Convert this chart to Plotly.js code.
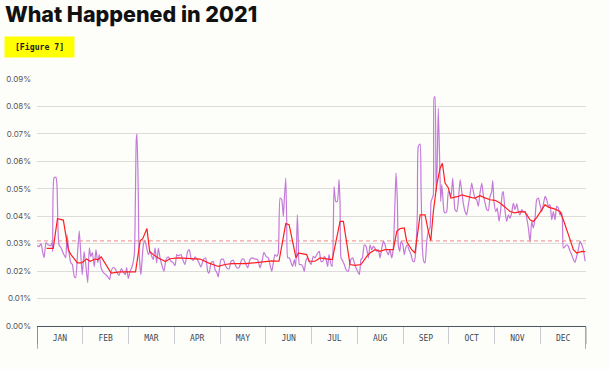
<!DOCTYPE html>
<html>
<head>
<meta charset="utf-8">
<script src="https://cdn.plot.ly/plotly-3.0.1.min.js"></script>
<style>
html,body{margin:0;padding:0;background:#fdfdfa;}
#chart{width:610px;height:369px;}
</style>
</head>
<body>
<div id="chart"></div>
<script>
// Month labels
var months = ['JAN','FEB','MAR','APR','MAY','JUN','JUL','AUG','SEP','OCT','NOV','DEC'];
var daysInYear = 365;

// Daily share (%) - purple line (day of year, 0 = Jan 1)
var dailyDays = [0,1.3,2.7,3.7,4.7,6.0,7.3,9.1,10.0,10.4,11.3,12.6,13.3,14.6,16.0,17.3,19.1,19.9,21.3,22.4,23.5,24.8,25.7,27.1,28.1,29.3,30.1,31.3,32.4,33.7,34.8,35.7,36.8,38.1,39.2,40.4,41.4,42.6,44.1,45.7,47.0,48.3,49.2,50.7,51.9,53.2,54.5,56.1,57.2,58.7,59.6,60.7,61.8,63.2,64.7,65.4,66.0,66.5,67.4,67.8,69.1,70.7,71.8,74.0,75.1,76.3,77.3,78.5,79.6,80.7,81.8,82.9,84.4,85.8,87.3,89.1,90.6,91.8,92.9,94.0,95.7,96.9,98.4,100.2,101.3,102.4,103.9,105.1,106.6,107.7,109.0,110.6,112.2,113.5,114.4,115.7,117.2,118.4,119.5,120.5,122.3,123.9,125.0,126.1,127.7,129.0,130.5,131.7,132.8,134.3,136.1,137.4,138.8,140.1,141.6,143.2,144.9,146.7,148.3,149.8,150.9,152.3,153.8,154.9,156.1,157.1,158.2,159.4,160.4,161.6,162.7,163.8,164.4,165.4,166.0,166.7,167.8,168.9,170.0,171.1,172.0,173.1,173.7,174.4,175.5,176.7,177.7,178.7,179.7,180.9,182.2,183.7,184.8,186.6,187.7,188.8,190.0,191.0,192.2,193.3,194.1,195.5,196.3,197.5,198.6,199.7,200.8,201.5,202.1,203.3,204.3,205.5,207.0,208.6,209.9,211.0,212.1,213.2,214.3,215.4,216.3,217.6,218.8,220.3,221.4,222.5,223.6,224.7,225.9,226.9,228.1,229.2,230.3,231.4,232.5,233.6,234.7,235.8,236.9,238.0,238.7,239.6,240.2,241.2,242.0,243.2,244.2,245.1,246.2,247.3,248.7,249.8,250.9,251.8,252.9,253.5,254.7,255.3,256.2,257.1,258.0,259.1,260.2,261.3,262.0,262.8,263.5,264.0,264.6,265.3,266.0,266.8,267.8,268.4,269.1,269.7,270.6,271.3,272.4,273.5,274.6,275.3,276.4,277.1,277.9,279.1,280.1,281.3,282.4,283.4,284.6,285.7,286.8,287.9,289.0,290.1,291.2,292.3,293.4,294.5,295.7,296.7,297.9,299.0,300.1,301.2,302.3,303.0,303.8,305.0,306.0,307.2,308.3,309.4,310.0,311.2,312.3,313.4,314.5,315.6,316.7,317.8,319.0,320.0,321.1,322.3,323.3,324.5,325.6,326.7,327.8,328.9,330.0,331.1,332.2,333.3,334.4,335.6,336.6,337.8,338.9,340.0,341.1,342.2,343.3,344.4,345.5,346.6,347.7,348.9,349.5,349.9,351.1,352.2,353.3,354.4,355.5,356.6,357.7,358.8,359.9,361.0,362.2,363.2,364.4];
var dailyShare = [0.0293,0.0289,0.0300,0.0271,0.0249,0.0304,0.0296,0.0293,0.0304,0.0271,0.0540,0.0542,0.0511,0.0296,0.0285,0.0267,0.0249,0.0333,0.0267,0.0231,0.0224,0.0180,0.0176,0.0278,0.0347,0.0242,0.0187,0.0271,0.0224,0.0158,0.0285,0.0253,0.0267,0.0216,0.0278,0.0231,0.0260,0.0213,0.0195,0.0187,0.0180,0.0169,0.0198,0.0213,0.0209,0.0195,0.0184,0.0209,0.0198,0.0187,0.0213,0.0173,0.0198,0.0216,0.0260,0.0460,0.0678,0.0700,0.0460,0.0278,0.0187,0.0296,0.0311,0.0260,0.0272,0.0254,0.0242,0.0284,0.0230,0.0284,0.0248,0.0224,0.0199,0.0242,0.0252,0.0236,0.0230,0.0220,0.0260,0.0256,0.0260,0.0242,0.0224,0.0272,0.0278,0.0248,0.0239,0.0252,0.0242,0.0230,0.0215,0.0242,0.0248,0.0199,0.0193,0.0230,0.0236,0.0205,0.0196,0.0179,0.0242,0.0244,0.0224,0.0212,0.0208,0.0236,0.0239,0.0224,0.0212,0.0212,0.0242,0.0244,0.0227,0.0212,0.0242,0.0248,0.0244,0.0242,0.0212,0.0242,0.0268,0.0254,0.0248,0.0224,0.0199,0.0230,0.0260,0.0254,0.0266,0.0466,0.0460,0.0399,0.0460,0.0539,0.0387,0.0248,0.0248,0.0230,0.0217,0.0242,0.0217,0.0405,0.0315,0.0224,0.0224,0.0217,0.0199,0.0236,0.0248,0.0236,0.0224,0.0254,0.0248,0.0266,0.0272,0.0236,0.0236,0.0254,0.0242,0.0217,0.0260,0.0224,0.0217,0.0508,0.0454,0.0454,0.0533,0.0442,0.0248,0.0236,0.0224,0.0205,0.0199,0.0242,0.0248,0.0230,0.0212,0.0199,0.0187,0.0242,0.0248,0.0296,0.0290,0.0248,0.0296,0.0278,0.0290,0.0284,0.0272,0.0278,0.0248,0.0284,0.0308,0.0296,0.0272,0.0260,0.0278,0.0248,0.0284,0.0454,0.0557,0.0454,0.0296,0.0272,0.0308,0.0296,0.0260,0.0284,0.0296,0.0278,0.0260,0.0236,0.0236,0.0272,0.0417,0.0654,0.0663,0.0515,0.0284,0.0236,0.0230,0.0308,0.0345,0.0357,0.0454,0.0466,0.0478,0.0830,0.0836,0.0490,0.0575,0.0793,0.0581,0.0454,0.0515,0.0478,0.0417,0.0412,0.0417,0.0490,0.0484,0.0472,0.0539,0.0478,0.0424,0.0417,0.0454,0.0533,0.0490,0.0448,0.0417,0.0405,0.0442,0.0478,0.0521,0.0490,0.0466,0.0460,0.0436,0.0484,0.0521,0.0478,0.0448,0.0424,0.0421,0.0472,0.0490,0.0530,0.0454,0.0417,0.0430,0.0381,0.0424,0.0484,0.0490,0.0417,0.0381,0.0405,0.0393,0.0412,0.0448,0.0424,0.0445,0.0417,0.0405,0.0424,0.0417,0.0417,0.0393,0.0357,0.0305,0.0381,0.0357,0.0393,0.0460,0.0466,0.0442,0.0417,0.0442,0.0472,0.0460,0.0436,0.0442,0.0387,0.0417,0.0387,0.0436,0.0430,0.0405,0.0412,0.0339,0.0284,0.0290,0.0296,0.0290,0.0272,0.0260,0.0242,0.0232,0.0254,0.0278,0.0308,0.0296,0.0278,0.0236];

// Rolling average (%) - red line
var avgDays = [6.4,10.8,13.6,17.5,20.8,22.6,26.9,29.7,32.9,35.4,38.6,40.6,42.7,49.3,55.2,65.5,68.6,70.3,73.1,74.9,77.3,80.7,85.4,88.4,93.9,101.7,108.4,113.9,120.5,125.0,129.5,138.3,142.8,144.9,151.6,156.2,160.9,165.4,167.6,172.2,173.7,176.9,179.3,180.9,184.8,188.2,191.5,193.7,196.3,201.5,203.7,208.1,211.4,215.4,219.2,221.4,224.7,228.1,231.4,236.9,239.2,241.4,244.2,245.8,249.1,251.3,254.7,258.0,260.2,261.8,263.5,265.8,268.0,269.5,271.3,273.5,275.1,280.1,282.4,285.7,289.0,291.2,294.5,297.9,301.2,304.5,307.8,311.2,314.5,317.8,321.1,324.5,327.8,330.0,332.2,335.6,337.8,340.0,344.4,347.7,349.9,353.3,356.6,358.8,362.2,364.4];
var avgShare = [0.0283,0.0283,0.0391,0.0386,0.0278,0.0260,0.0230,0.0230,0.0244,0.0236,0.0244,0.0242,0.0252,0.0193,0.0197,0.0197,0.0311,0.0318,0.0355,0.0272,0.0260,0.0248,0.0235,0.0245,0.0248,0.0247,0.0244,0.0230,0.0217,0.0224,0.0227,0.0227,0.0230,0.0230,0.0236,0.0237,0.0236,0.0373,0.0369,0.0248,0.0266,0.0264,0.0260,0.0236,0.0236,0.0248,0.0244,0.0244,0.0242,0.0381,0.0381,0.0224,0.0221,0.0224,0.0254,0.0266,0.0278,0.0272,0.0278,0.0278,0.0345,0.0355,0.0357,0.0308,0.0278,0.0266,0.0405,0.0405,0.0345,0.0311,0.0417,0.0515,0.0575,0.0593,0.0521,0.0503,0.0466,0.0472,0.0478,0.0472,0.0468,0.0466,0.0475,0.0467,0.0460,0.0458,0.0448,0.0433,0.0417,0.0412,0.0417,0.0415,0.0387,0.0381,0.0395,0.0424,0.0442,0.0433,0.0426,0.0417,0.0387,0.0333,0.0278,0.0266,0.0272,0.0271];

// Yearly average (%) - dashed line
var yearAverage = 0.031;

var monthWidth = daysInYear / months.length;
var monthCenters = months.map(function(m, i){ return (i + 0.5) * monthWidth; });

var traces = [
  {x: dailyDays, y: dailyShare, type: 'scatter', mode: 'lines',
   line: {color: '#c47ad9', width: 1.2, shape: 'spline', smoothing: 0.5}, hoverinfo: 'skip'},
  {x: [0, daysInYear], y: [yearAverage, yearAverage], type: 'scatter', mode: 'lines',
   line: {color: '#f08a8a', width: 1, dash: '4px,3px'}, hoverinfo: 'skip'},
  {x: avgDays, y: avgShare, type: 'scatter', mode: 'lines',
   line: {color: '#ff1f1f', width: 1.2}, hoverinfo: 'skip'}
];

var layout = {
  width: 610, height: 369,
  paper_bgcolor: '#fdfdfa', plot_bgcolor: '#fdfdfa',
  margin: {l: 37, r: 24, t: 79, b: 42.5},
  showlegend: false,
  title: {text: 'What Happened in 2021', x: 0.008, xanchor: 'left', xref: 'container',
          y: 0.982, yanchor: 'top', yref: 'container',
          font: {family: 'Inter, Roboto, sans-serif', size: 21.5, color: '#111', weight: 800}},
  xaxis: {
    range: [0, daysInYear], fixedrange: true,
    tickmode: 'array', tickvals: monthCenters, ticktext: months,
    ticks: '', showgrid: false, zeroline: false,
    showline: true, linecolor: '#4b5863', linewidth: 1,
    tickfont: {family: '"DejaVu Sans Mono", monospace', size: 8, color: '#3d4a55'},
    ticklabelstandoff: 4,
    minor: {tick0: 0, dtick: monthWidth, ticks: 'outside', ticklen: 17, tickwidth: 1, tickcolor: '#c9cccf', showgrid: false}
  },
  yaxis: {
    range: [0, 0.09], fixedrange: true,
    tickmode: 'linear', tick0: 0, dtick: 0.01,
    tickformat: '.2f', ticksuffix: '%',
    showgrid: true, gridcolor: '#dcdcda', gridwidth: 1,
    zeroline: false, showline: false, ticks: '',
    tickfont: {family: 'Inter, "Liberation Sans", sans-serif', size: 8, color: '#555'},
    ticklabelstandoff: 5
  },
  shapes: [
    {type: 'line', xref: 'x', yref: 'paper', x0: 0, x1: 0, y0: 0, y1: -0.092, line: {color: '#4b5863', width: 1}},
    {type: 'line', xref: 'x', yref: 'paper', x0: daysInYear, x1: daysInYear, y0: 0, y1: -0.092, line: {color: '#4b5863', width: 1}}
  ],
  annotations: [
    {text: '<b>&nbsp;[Figure 7]&nbsp;</b>', xref: 'paper', yref: 'paper', x: -0.060, y: 1.129,
     xanchor: 'left', yanchor: 'middle', showarrow: false,
     bgcolor: '#ffff00', borderpad: 5,
     font: {family: '"DejaVu Sans Mono", monospace', size: 8.2, color: '#222'}}
  ]
};

Plotly.newPlot('chart', traces, layout, {displayModeBar: false, staticPlot: true});
</script>
</body>
</html>
